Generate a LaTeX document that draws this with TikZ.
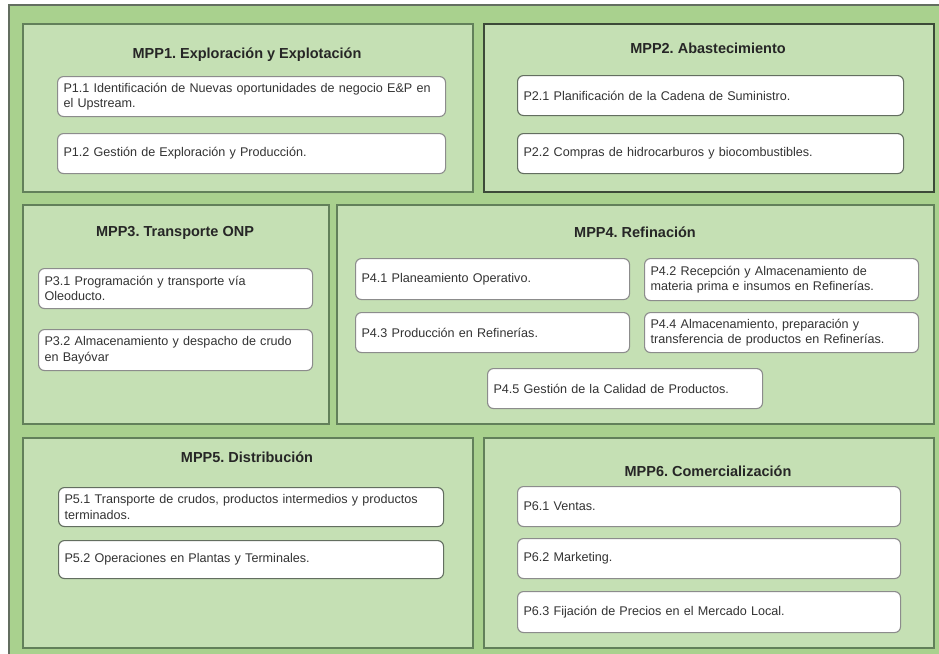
\documentclass[tikz,border=0pt]{standalone}
\usepackage{fontspec}
\setmainfont{Liberation Sans}
\usetikzlibrary{positioning}
\frenchspacing

\definecolor{outergreen}{HTML}{A9D18E}
\definecolor{panelgreen}{HTML}{C5E0B4}
\definecolor{paneledge}{HTML}{62805A}
\definecolor{darkedge}{HTML}{3C4A38}
\definecolor{boxedge}{HTML}{8C8C8C}

\tikzset{
  panel/.style={draw=paneledge, line width=1.5pt, fill=panelgreen, anchor=north west, inner sep=0pt},
  mpptitle/.style={font=\fontsize{14.5}{17}\selectfont\bfseries, text=black!85},
  pbox/.style={draw=boxedge, line width=1.1pt, fill=white, rounded corners=6pt, anchor=north west,
    inner xsep=6pt, inner ysep=0pt, align=left, font=\fontsize{12.6}{15.5}\selectfont, text=black!80},
  darkbox/.style={pbox, draw=darkedge!80}
}

\begin{document}
\begin{tikzpicture}[x=1pt, y=-1pt]

\useasboundingbox (0,0) rectangle (939,653);
\clip (0,0) rectangle (939,653);
\fill[white] (0,0) rectangle (939,653);
\draw[fill=outergreen, draw=darkedge!80, line width=1.8pt] (9,5) rectangle (960,680);

\node[panel, minimum width=450pt, minimum height=168pt] (mpp1) at (22,23) {};
\node[panel, draw=darkedge, line width=2.2pt, minimum width=450pt, minimum height=168pt] (mpp2) at (483,23) {};
\node[panel, minimum width=306pt, minimum height=219pt] (mpp3) at (22,204) {};
\node[panel, minimum width=597pt, minimum height=219pt] (mpp4) at (336,204) {};
\node[panel, minimum width=450pt, minimum height=210pt] (mpp5) at (22,437) {};
\node[panel, minimum width=450pt, minimum height=210pt] (mpp6) at (483,437) {};

\node[mpptitle] (t1) at (247,55) {MPP1. Exploración y Explotación};
\node[mpptitle] (t2) at (708,48) {MPP2. Abastecimiento};
\node[mpptitle] (t3) at (175,233) {MPP3. Transporte ONP};
\node[mpptitle] (t4) at (635,232) {MPP4. Refinación};
\node[mpptitle] (t5) at (247,457) {MPP5. Distribución};
\node[mpptitle] (t6) at (708,471) {MPP6. Comercialización};

\node[pbox, text width=376pt, minimum height=40pt] (p11) at (57,76) {P1.1 Identificación de Nuevas oportunidades de negocio E\&P en\\el Upstream.};
\node[pbox, text width=376pt, minimum height=40pt] (p12) at (57,133) {P1.2 Gestión de Exploración y Producción.};

\node[darkbox, text width=374pt, minimum height=40pt] (p21) at (517,75) {P2.1 Planificación de la Cadena de Suministro.};
\node[darkbox, text width=374pt, minimum height=40pt] (p22) at (517,133) {P2.2 Compras de hidrocarburos y biocombustibles.};

\node[pbox, text width=262pt, minimum height=40pt] (p31) at (38,268) {P3.1 Programación y transporte vía\\Oleoducto.};
\node[pbox, text width=262pt, minimum height=41pt] (p32) at (38,329) {P3.2 Almacenamiento y despacho de crudo\\en Bayóvar};

\node[pbox, text width=262pt, minimum height=41pt] (p41) at (355,258) {P4.1 Planeamiento Operativo.};
\node[pbox, text width=262pt, minimum height=42pt] (p42) at (644,258) {P4.2 Recepción y Almacenamiento de\\materia prima e insumos en Refinerías.};
\node[pbox, text width=262pt, minimum height=40pt] (p43) at (355,312) {P4.3 Producción en Refinerías.};
\node[pbox, text width=262pt, minimum height=40pt] (p44) at (644,312) {P4.4 Almacenamiento, preparación y\\transferencia de productos en Refinerías.};
\node[pbox, text width=263pt, minimum height=40pt] (p45) at (487,368) {P4.5 Gestión de la Calidad de Productos.};

\node[darkbox, text width=373pt, minimum height=39pt] (p51) at (58,487) {P5.1 Transporte de crudos, productos intermedios y productos\\terminados.};
\node[darkbox, text width=373pt, minimum height=38pt] (p52) at (58,540) {P5.2 Operaciones en Plantas y Terminales.};

\node[pbox, text width=371pt, minimum height=40pt] (p61) at (517,486) {P6.1 Ventas.};
\node[pbox, text width=371pt, minimum height=40pt] (p62) at (517,538) {P6.2 Marketing.};
\node[pbox, text width=371pt, minimum height=41pt] (p63) at (517,591) {P6.3 Fijación de Precios en el Mercado Local.};

\end{tikzpicture}
\end{document}
